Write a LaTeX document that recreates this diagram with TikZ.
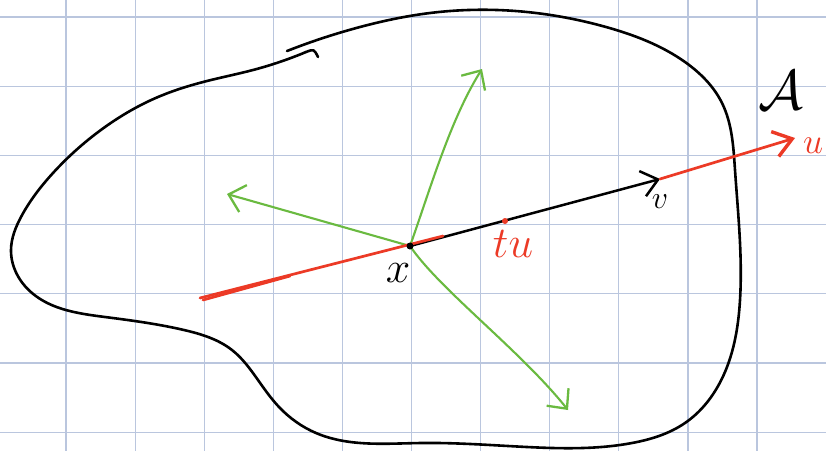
\RequirePackage{fix-cm}
\documentclass[tikz,border=0pt]{standalone}
\usepackage{amsmath,amssymb}
\usetikzlibrary{arrows.meta,hobby}
\definecolor{gridblue}{RGB}{186,198,222}
\definecolor{penred}{RGB}{236,58,38}
\definecolor{pengreen}{RGB}{106,186,64}

\begin{document}
\begin{tikzpicture}[x=1pt,y=-1pt,
 blob/.style={line width=2.6pt,line cap=round,line join=round,use Hobby shortcut},
 gvec/.style={pengreen,line width=2.1pt,line cap=round,
  -{Straight Barb[length=15pt,width=28pt,line width=2.3pt]}},
 rvec/.style={penred,line width=2.7pt,line cap=round},
 bvec/.style={line width=2.5pt,line cap=round,
  -{Straight Barb[length=16pt,width=26pt,line width=2.5pt]}},
 dot/.style={circle,fill,inner sep=0pt,minimum size=7pt},
 lbl/.style={inner sep=0pt,font=\fontsize{44}{46}\selectfont}]
\useasboundingbox (0,0) rectangle (826,451);
\fill[white] (0,0) rectangle (826,451);
\foreach \k in {0,...,10}
 \draw[gridblue,line width=1.2pt] ({66+69.1*\k},0) -- ({66+69.1*\k},451);
\foreach \k in {0,...,6}
 \draw[gridblue,line width=1.2pt] (0,{17+69.2*\k}) -- (826,{17+69.2*\k});
% region A
\draw[blob] (287,51) .. (360,27) .. (430,13) .. (527,12) .. (606,27) .. (685,62)
 .. (722,103) .. (735,170) .. (740,300) .. (727,367) .. (685,423) .. (632,443)
 .. (527,447) .. (421,443) .. (316,433) .. (279,407) .. (258,380) .. (232,350)
 .. (184,330) .. (105,317) .. (32,293) .. (11,250) .. (21,217) .. (53,173)
 .. (105,127) .. (158,97) .. (211,80) .. (253,70) .. (306,52);
\draw[line width=2.6pt,line cap=round] (306,52) .. controls (314,49) .. (318,57);
\coordinate (xpt) at (410,246);
\coordinate (vtip) at (660,179);
\coordinate (utip) at (795,138);
\coordinate (rstart) at (200,298);
\coordinate (rend) at (443,236);
\coordinate (gup) at (482,69);
\coordinate (gleft) at (227,194);
\coordinate (gdown) at (568,410);
\draw[gvec] (xpt) .. controls (430,190) and (450,120) .. (gup);
\draw[gvec] (xpt) -- (gleft);
\draw[gvec] (xpt) .. controls (440,290) and (520,350) .. (gdown);
\draw[bvec] (xpt) -- (vtip);
\draw[rvec] (rstart) -- (rend);
\draw[rvec] (203,300) -- (290,276);
\draw[rvec,-{Straight Barb[length=18pt,width=26pt,line width=3.4pt]}] (vtip) -- (utip);
\node[dot] (xdot) at (xpt) {};
\node[circle,fill=penred,inner sep=0pt,minimum size=6pt] (tupt) at (505,221) {};
\node[lbl,text=penred] (tulbl) at (513,244) {$tu$};
\node[lbl,text=penred,anchor=west,font=\fontsize{36}{38}\selectfont] (ulbl) at (803,146) {$u$};
\node[lbl] (xlbl) at (398,273) {$x$};
\node[lbl,font=\fontsize{32}{34}\selectfont] (vlbl) at (660,202) {$v$};
\node[lbl,font=\fontsize{56}{58}\selectfont] (albl) at (781,90) {$\mathcal{A}$};
\end{tikzpicture}
\end{document}
